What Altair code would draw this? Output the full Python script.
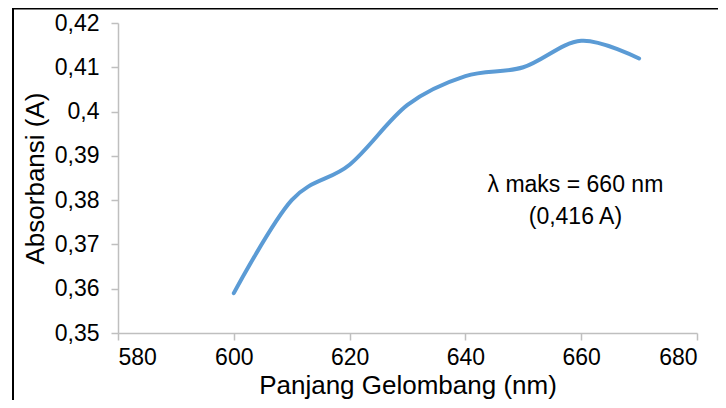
import altair as alt
import pandas as pd

# Data
wavelength = [600, 610, 620, 630, 640, 650, 660, 670]
absorbance = [0.359, 0.380, 0.388, 0.4015, 0.408, 0.410, 0.416, 0.412]

y_ticks = [0.35, 0.36, 0.37, 0.38, 0.39, 0.40, 0.41, 0.42]
x_ticks = [580, 600, 620, 640, 660, 680]

ann_text = ["λ maks = 660 nm", "(0,416 A)"]
ann_x = [659, 659]
ann_y = [0.3835, 0.3762]

FONT = "Liberation Sans"

df = pd.DataFrame({"wl": wavelength, "abs": absorbance})
ann = pd.DataFrame({"t": ann_text, "x": ann_x, "y": ann_y})
one = pd.DataFrame({"b": [0]})

x_scale = alt.Scale(domain=[580, 680], nice=False, zero=False)
y_scale = alt.Scale(domain=[0.35, 0.42], nice=False, zero=False)

line = alt.Chart(df).mark_line(
    color="#5b9bd5", strokeWidth=4, interpolate="cardinal", strokeCap="round"
).encode(
    x=alt.X("wl:Q", scale=x_scale,
            axis=alt.Axis(values=x_ticks, title="Panjang Gelombang (nm)",
                          grid=False, labelPadding=6,
                          titleY=60, titleBaseline="alphabetic")),
    y=alt.Y("abs:Q", scale=y_scale,
            axis=alt.Axis(values=y_ticks, title="Absorbansi (A)", grid=False,
                          labelExpr="replace(format(datum.value, '.2~f'), '.', ',')",
                          labelPadding=12,
                          titleX=-83, titleY=155, titleAngle=-90,
                          titleAlign="center", titleBaseline="middle")),
)

text = alt.Chart(ann).mark_text(
    font=FONT, fontSize=23, color="black", align="center", baseline="middle"
).encode(
    x=alt.X("x:Q", scale=x_scale),
    y=alt.Y("y:Q", scale=y_scale),
    text="t:N",
)

left_border = alt.Chart(one).mark_rule(color="black", strokeWidth=2).encode(
    x=alt.value(-105), y=alt.value(-16), y2=alt.value(400)
)
top_border = alt.Chart(one).mark_rule(color="black", strokeWidth=2).encode(
    y=alt.value(-14.5), x=alt.value(-106), x2=alt.value(620)
)

chart = alt.layer(line, text, left_border, top_border).properties(
    width=579, height=310,
    autosize=alt.AutoSizeParams(type="none"),
    padding={"left": 110, "top": 15, "right": 21, "bottom": 67},
).configure_view(stroke=None).configure_axis(
    domainColor="#bfbfbf", tickColor="#bfbfbf", domainWidth=1.5, tickWidth=1.5,
    tickSize=7, labelFont=FONT, labelFontSize=23, labelColor="black",
    titleFont=FONT, titleFontSize=26, titleColor="black", titleFontWeight="normal",
)

chart.save("out.html", embed_options={"renderer": "svg", "actions": False})
